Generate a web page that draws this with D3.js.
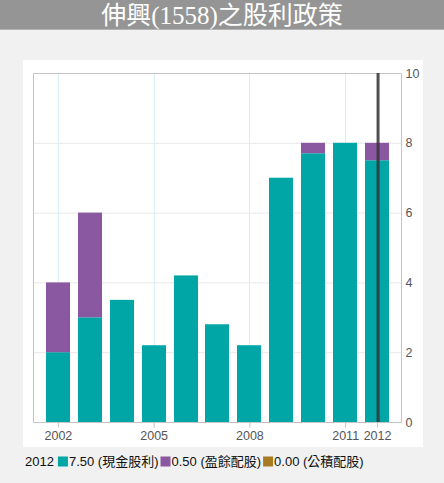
<!DOCTYPE html>
<html>
<head>
<meta charset="utf-8">
<script src="https://cdn.jsdelivr.net/npm/d3@7"></script>
<style>
  body { margin: 0; background: #f0f1f0; }
  svg { display: block; }
  text { font-family: "Liberation Sans", Arial, "Noto Sans CJK TC", sans-serif; }
</style>
</head>
<body>
<svg id="chart" width="444" height="483"></svg>
<script>
const years = [2002, 2003, 2004, 2005, 2006, 2007, 2008, 2009, 2010, 2011, 2012]
const cashDividend = [2.0, 3.0, 3.5, 2.2, 4.2, 2.8, 2.2, 7.0, 7.7, 8.0, 7.5]
const stockDividend = [2.0, 3.0, 0, 0, 0, 0, 0, 0, 0.3, 0, 0.5]
const reserveDividend = [0, 0, 0, 0, 0, 0, 0, 0, 0, 0, 0]
const xTicks = [2002, 2005, 2008, 2011, 2012]
const yTicks = [0, 2, 4, 6, 8, 10]
const seriesNames = ['現金股利', '盈餘配股', '公積配股']
const seriesColors = ['#00a6a6', '#8a58a0', '#a87b22']
const hoverYear = 2012

const svg = d3.select('#chart')
const W = 444, H = 483

// title bar
svg.append('rect').attr('x', 0).attr('y', 0).attr('width', W).attr('height', 30).attr('fill', '#959595')
svg.append('rect').attr('x', 0).attr('y', 29).attr('width', W).attr('height', 1).attr('fill', '#b4b4b4')
svg.append('text')
  .attr('x', W / 2).attr('y', 23.5)
  .attr('text-anchor', 'middle')
  .attr('fill', '#fff')
  .style('font-family', '"Liberation Serif", "Noto Sans CJK TC", serif')
  .style('font-size', '25px')
  .text('伸興(1558)之股利政策')

// white panel
svg.append('rect').attr('x', 23).attr('y', 60).attr('width', 400).attr('height', 387).attr('fill', '#fff')

const plot = {left: 33, right: 401, top: 73, bottom: 422}

const x = d3.scaleLinear().domain([2001.22, 2012.75]).range([plot.left, plot.right])
const y = d3.scaleLinear().domain([0, 10]).range([plot.bottom, plot.top])
const barW = 24

// grid
svg.append('g').selectAll('line').data(yTicks).join('line')
  .attr('x1', plot.left).attr('x2', plot.right)
  .attr('y1', d => y(d) + 0.5).attr('y2', d => y(d) + 0.5)
  .attr('stroke', '#e8e8e8')
svg.append('g').selectAll('line').data(xTicks).join('line')
  .attr('x1', d => Math.round(x(d)) + 0.5).attr('x2', d => Math.round(x(d)) + 0.5)
  .attr('y1', plot.top).attr('y2', plot.bottom)
  .attr('stroke', '#d9eef5')

// stacked bars
const rows = years.map((yr, i) => ({year: yr, cash: cashDividend[i], stock: stockDividend[i], reserve: reserveDividend[i]}))
const stack = d3.stack().keys(['cash', 'stock', 'reserve'])(rows)
svg.append('g').selectAll('g').data(stack).join('g')
  .attr('fill', (d, i) => seriesColors[i])
  .selectAll('rect').data(d => d.filter(p => p[1] > p[0])).join('rect')
    .attr('x', d => Math.round(x(d.data.year) - barW / 2))
    .attr('width', barW)
    .attr('y', d => y(d[1]))
    .attr('height', d => y(d[0]) - y(d[1]))

// plot border
svg.append('path')
  .attr('d', `M${plot.left + 0.5},${plot.bottom + 0.5}V${plot.top + 0.5}H${plot.right + 0.5}V${plot.bottom + 0.5}H${plot.left + 0.5}`)
  .attr('fill', 'none').attr('stroke', '#c4c4c4')

// bottom axis
const xAxis = svg.append('g')
  .attr('transform', `translate(0, ${plot.bottom + 0.5})`)
  .call(d3.axisBottom(x).tickValues(xTicks).tickFormat(d3.format('d')).tickSize(5).tickSizeOuter(0).tickPadding(4))
xAxis.select('.domain').remove()
xAxis.selectAll('line').attr('stroke', '#c4c4c4')
xAxis.selectAll('text').attr('fill', '#555').style('font-size', '12.5px')

// right axis
const yAxis = svg.append('g')
  .attr('transform', `translate(${plot.right + 0.5}, 0)`)
  .call(d3.axisRight(y).tickValues(yTicks).tickSize(0).tickPadding(4))
yAxis.select('.domain').remove()
yAxis.selectAll('text').attr('fill', '#555').style('font-size', '12.5px')

// hover crosshair
svg.append('line')
  .attr('x1', x(hoverYear) + 1).attr('x2', x(hoverYear) + 1)
  .attr('y1', plot.top).attr('y2', plot.bottom)
  .attr('stroke', '#333').attr('stroke-opacity', 0.85).attr('stroke-width', 3)

// legend
const idx = years.indexOf(hoverYear)
const legendVals = [cashDividend[idx], stockDividend[idx], reserveDividend[idx]]
const legend = svg.append('g').attr('transform', 'translate(25, 466)')
let cx = 0
const yrText = legend.append('text').attr('x', cx).attr('y', 0).style('font-size', '13px').attr('fill', '#111').text(hoverYear)
cx += yrText.node().getComputedTextLength() + 4
legendVals.forEach((v, i) => {
  legend.append('rect').attr('x', cx).attr('y', -9.5).attr('width', 10).attr('height', 10).attr('fill', seriesColors[i])
  cx += 11
  const t = legend.append('text').attr('x', cx).attr('y', 0).style('font-size', '13px').attr('fill', '#111')
    .text(`${v.toFixed(2)} (${seriesNames[i]})`)
  cx += t.node().getComputedTextLength() + 2
})
</script>
</body>
</html>
